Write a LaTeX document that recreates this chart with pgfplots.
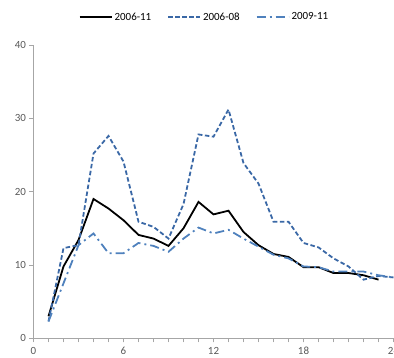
\documentclass[border=0pt]{standalone}
\usepackage{pgfplots}
\pgfplotsset{compat=1.18}
\usepackage{fontspec}
\setmainfont{Carlito}
\definecolor{dkblue}{HTML}{3A68A6}
\definecolor{ltblue}{HTML}{4F81BD}
\definecolor{axgray}{HTML}{A6A6A6}
\definecolor{txtgray}{HTML}{595959}
\begin{document}
\begin{tikzpicture}[x=1bp,y=1bp]
\begin{axis}[
  at={(33.5bp,19.7bp)}, anchor=south west,
  scale only axis, width=360bp, height=293.3bp,
  xmin=0, xmax=24, ymin=0, ymax=40,
  axis x line*=bottom, axis y line*=left,
  axis line style={axgray, line width=0.6pt, -},
  xtick={0,6,12,18,24}, minor xtick={1,...,23},
  ytick={0,10,20,30,40},
  tick align=outside, major tick length=4bp, minor tick length=4bp,
  tick style={axgray, line width=0.6pt},
  every tick label/.append style={font=\fontsize{11}{13}\selectfont, text=txtgray},
  xticklabel style={yshift=-1.5bp},
  /pgf/number format/assume math mode=true,
  legend style={at={(0.475,1.095)}, anchor=center, draw=none, fill=none,
    font=\fontsize{11}{13}\selectfont, legend columns=3,
    /tikz/every even column/.append style={column sep=14bp}},
  legend image code/.code={\draw[#1] (0bp,0bp) -- (32bp,0bp);},
  clip=false,
]
\addplot[black, line width=1.8pt] coordinates {
(1,3.0) (2,9.8) (3,13.4) (4,19.0) (5,17.7) (6,16.1) (7,14.1) (8,13.6) (9,12.6) (10,15.0)
(11,18.6) (12,16.9) (13,17.4) (14,14.5) (15,12.7) (16,11.5) (17,11.1) (18,9.7) (19,9.7)
(20,8.9) (21,8.9) (22,8.6) (23,8.0)};
\addlegendentry{2006-11}
\addplot[dkblue, line width=1.8pt, dash pattern=on 4.5bp off 2.5bp] coordinates {
(1,2.3) (2,12.3) (3,12.7) (4,25.2) (5,27.6) (6,24.1) (7,15.9) (8,15.2) (9,13.6) (10,18.3)
(11,27.8) (12,27.5) (13,31.2) (14,23.9) (15,21.1) (16,15.9) (17,15.9) (18,13.0) (19,12.4)
(20,10.9) (21,9.8) (22,8.0) (23,8.5) (24,8.3)};
\addlegendentry{2006-08}
\addplot[ltblue, line width=1.8pt, dash pattern=on 9bp off 4bp on 2bp off 4bp] coordinates {
(1,2.3) (2,7.5) (3,12.7) (4,14.3) (5,11.6) (6,11.6) (7,13.0) (8,12.6) (9,11.8) (10,13.6)
(11,15.1) (12,14.3) (13,14.8) (14,13.6) (15,12.5) (16,11.4) (17,10.9) (18,9.8) (19,9.7)
(20,9.1) (21,9.1) (22,9.1) (23,8.6) (24,8.3)};
\addlegendentry{2009-11}
\end{axis}
\pgfresetboundingbox
\useasboundingbox (0bp,0bp) rectangle (394bp,358bp);
\end{tikzpicture}
\end{document}
